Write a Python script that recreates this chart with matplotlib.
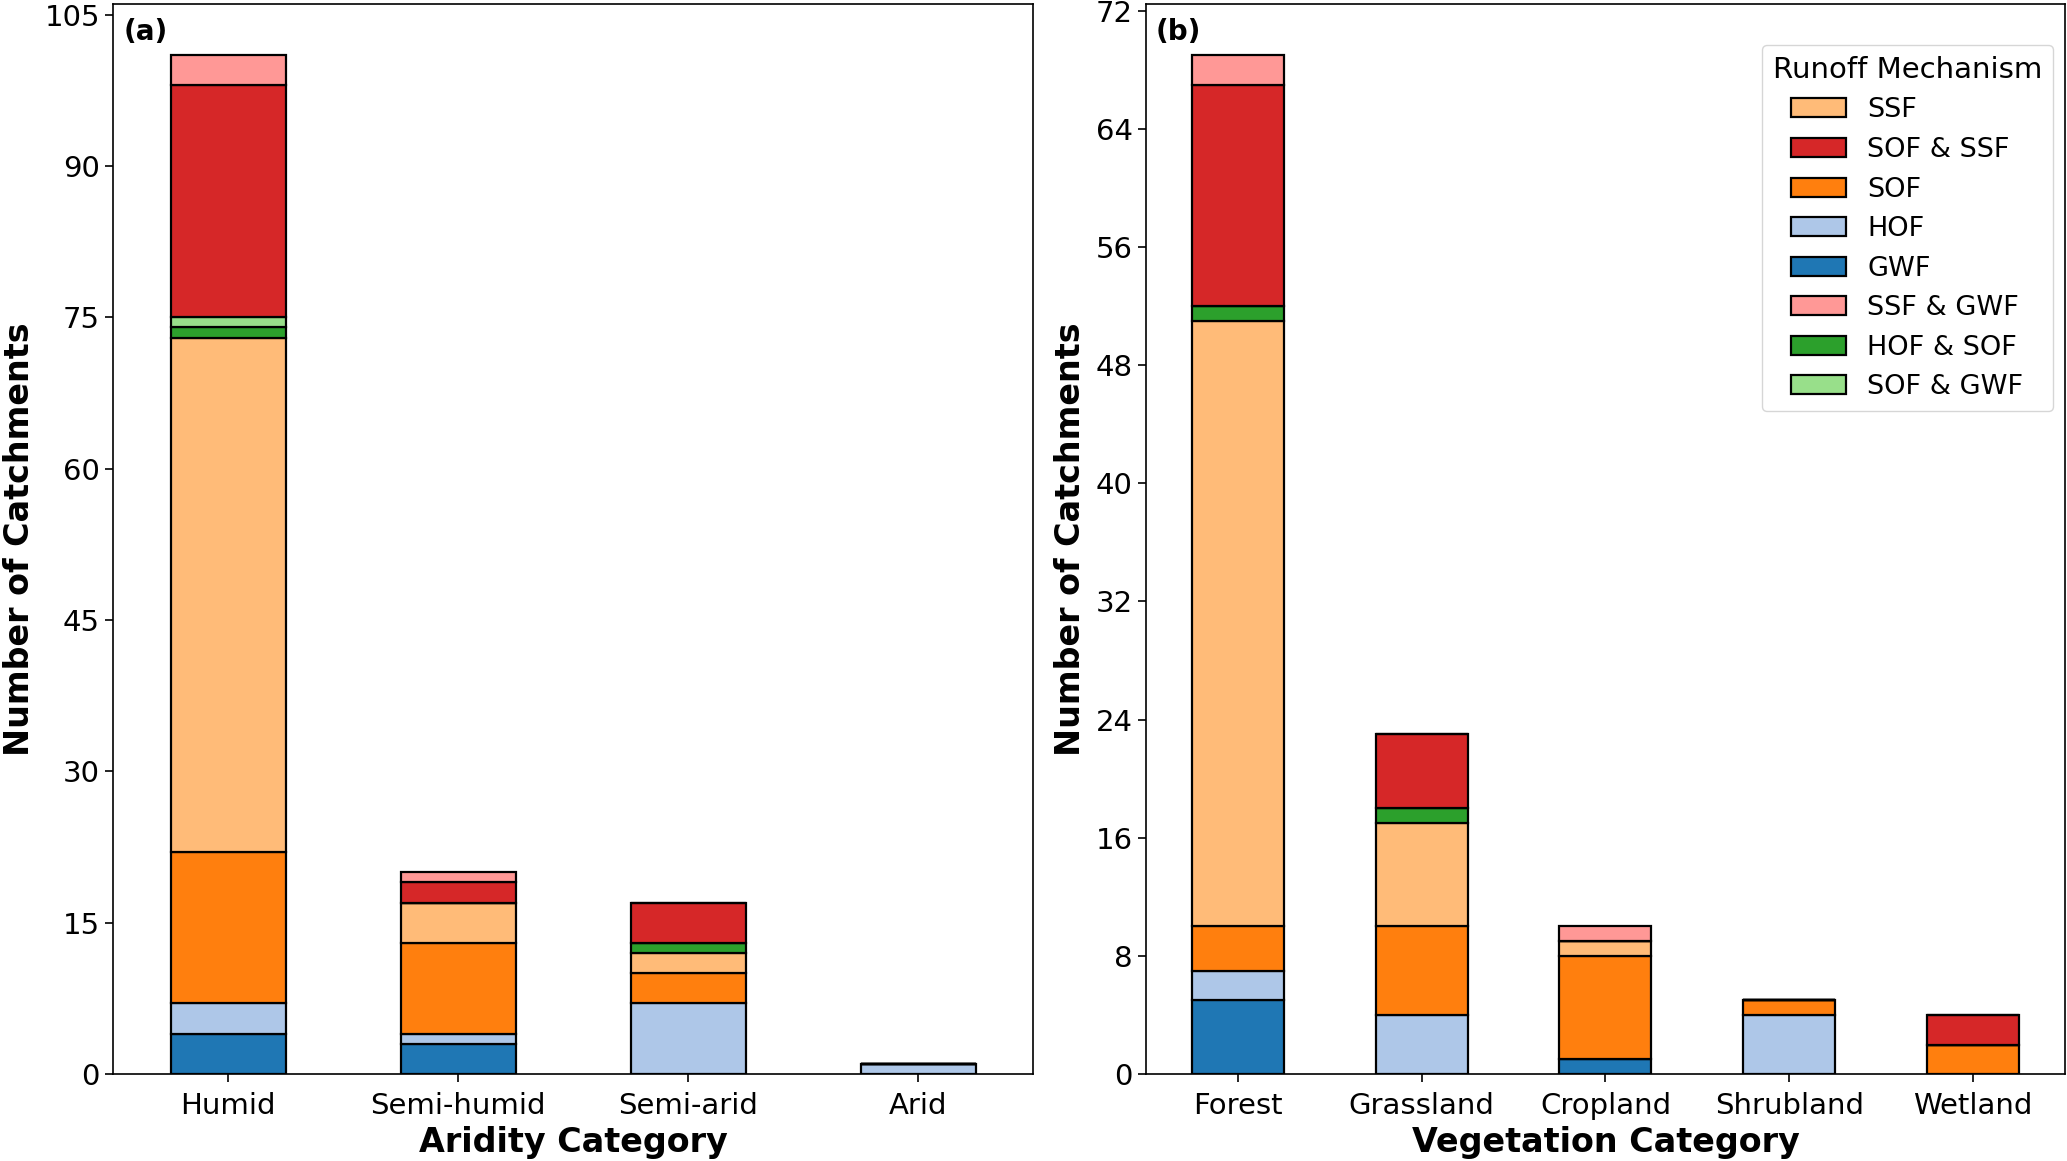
import matplotlib
matplotlib.use("Agg")
import matplotlib.pyplot as plt
import numpy as np

# Data
aridity_cats = ["Humid", "Semi-humid", "Semi-arid", "Arid"]
veg_cats = ["Forest", "Grassland", "Cropland", "Shrubland", "Wetland"]

# stacking order (bottom to top)
mechanisms = ["GWF", "HOF", "SOF", "SSF", "HOF & SOF", "SOF & GWF", "SOF & SSF", "SSF & GWF"]

aridity_vals = {
    "GWF":       [4, 3, 0, 0],
    "HOF":       [3, 1, 7, 1],
    "SOF":       [15, 9, 3, 0],
    "SSF":       [51, 4, 2, 0],
    "HOF & SOF": [1, 0, 1, 0],
    "SOF & GWF": [1, 0, 0, 0],
    "SOF & SSF": [23, 2, 4, 0],
    "SSF & GWF": [3, 1, 0, 0],
}

veg_vals = {
    "GWF":       [5, 0, 1, 0, 0],
    "HOF":       [2, 4, 0, 4, 0],
    "SOF":       [3, 6, 7, 1, 2],
    "SSF":       [41, 7, 1, 0, 0],
    "HOF & SOF": [1, 1, 0, 0, 0],
    "SOF & GWF": [0, 0, 0, 0, 0],
    "SOF & SSF": [15, 5, 0, 0, 2],
    "SSF & GWF": [2, 0, 1, 0, 0],
}

aridity_ticks = [0, 15, 30, 45, 60, 75, 90, 105]
veg_ticks = [0, 8, 16, 24, 32, 40, 48, 56, 64, 72]

legend_order = ["SSF", "SOF & SSF", "SOF", "HOF", "GWF", "SSF & GWF", "HOF & SOF", "SOF & GWF"]

colors = {
    "SSF": "#ffbb78",
    "SOF & SSF": "#d62728",
    "SOF": "#ff7f0e",
    "HOF": "#aec7e8",
    "GWF": "#1f77b4",
    "SSF & GWF": "#ff9896",
    "HOF & SOF": "#2ca02c",
    "SOF & GWF": "#98df8a",
}

FS = 21

fig = plt.figure(figsize=(20.67, 11.61), dpi=100)
ax1 = fig.add_axes([0.0547, 0.0749, 0.4451, 0.9216])
ax2 = fig.add_axes([0.5544, 0.0749, 0.4446, 0.9216])


def stacked(ax, cats, vals):
    x = np.arange(len(cats))
    bottom = np.zeros(len(cats))
    handles = {}
    for m in mechanisms:
        v = np.array(vals[m], dtype=float)
        h = ax.bar(x, v, bottom=bottom, width=0.5, color=colors[m],
                   edgecolor="black", linewidth=1.6, label=m)
        handles[m] = h
        bottom += v
    ax.set_xticks(x)
    ax.set_xticklabels(cats, fontsize=FS)
    ax.set_xlim(-0.5, len(cats) - 0.5)
    ax.tick_params(axis="both", labelsize=FS, length=6, width=1.2)
    ax.tick_params(axis="x", pad=7)
    for s in ax.spines.values():
        s.set_linewidth(1.2)
    return handles


stacked(ax1, aridity_cats, aridity_vals)
ax1.set_yticks(aridity_ticks)
ax1.set_xlabel("Aridity Category", fontsize=24, fontweight="bold", labelpad=4)
ax1.set_ylabel("Number of Catchments", fontsize=24, fontweight="bold", labelpad=6)
ax1.text(0.011, 0.987, "(a)", transform=ax1.transAxes, fontsize=20,
         fontweight="bold", va="top", ha="left")

handles = stacked(ax2, veg_cats, veg_vals)
ax2.set_yticks(veg_ticks)
ax2.set_xlabel("Vegetation Category", fontsize=24, fontweight="bold", labelpad=4)
ax2.set_ylabel("Number of Catchments", fontsize=24, fontweight="bold", labelpad=6)
ax2.text(0.011, 0.987, "(b)", transform=ax2.transAxes, fontsize=20,
         fontweight="bold", va="top", ha="left")

ax2.legend([handles[m] for m in legend_order], legend_order,
           title="Runoff Mechanism", fontsize=19.5, title_fontsize=21,
           loc="upper right", bbox_to_anchor=(0.987, 0.9617), borderaxespad=0,
           handlelength=2.0, handletextpad=0.8, labelspacing=0.5)

fig.savefig("out.png", dpi=100)
